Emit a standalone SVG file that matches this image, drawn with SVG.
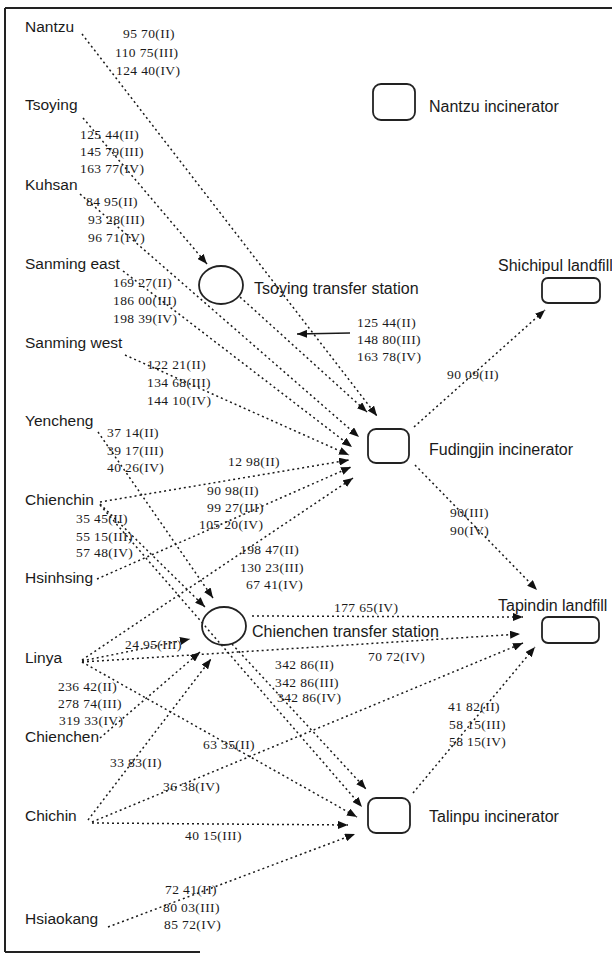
<svg xmlns="http://www.w3.org/2000/svg" width="612" height="954" viewBox="0 0 612 954">
<style>
.dot{fill:none;stroke:#1a1a1a;stroke-width:1.5;stroke-dasharray:2 3}
.solid{fill:none;stroke:#1a1a1a;stroke-width:1.3}
.shape{fill:none;stroke:#222;stroke-width:1.8}
.src{font-family:"Liberation Sans",Arial,sans-serif;font-size:15.5px;fill:#1a1a1a}
.nl{font-family:"Liberation Sans",Arial,sans-serif;font-size:16px;fill:#1a1a1a}
.num{font-family:"Liberation Serif","Times New Roman",serif;font-size:13.5px;letter-spacing:0.4px;fill:#1a1a1a}
.frame{fill:none;stroke:#222;stroke-width:2}
</style>
<defs>
<marker id="ah" viewBox="0 0 10 8" refX="10" refY="4" markerWidth="10" markerHeight="8" markerUnits="userSpaceOnUse" orient="auto"><path d="M0,0 L10,4 L0,8 z" fill="#111"/></marker>
</defs>
<rect width="612" height="954" fill="#fff"/>
<path class="frame" d="M5,8 H612 M5,8 V952 M5,952 H200"/>

<g id="connectors">
<line class="dot" x1="82" y1="34" x2="377" y2="416" marker-end="url(#ah)"/>
<line class="dot" x1="240" y1="297" x2="367" y2="412" marker-end="url(#ah)"/>
<line class="dot" x1="80" y1="194" x2="359" y2="437" marker-end="url(#ah)"/>
<line class="dot" x1="123" y1="271" x2="352" y2="447" marker-end="url(#ah)"/>
<line class="dot" x1="125" y1="355" x2="349" y2="455" marker-end="url(#ah)"/>
<line class="dot" x1="100" y1="502" x2="349" y2="460" marker-end="url(#ah)"/>
<line class="dot" x1="97" y1="579" x2="351" y2="467" marker-end="url(#ah)"/>
<line class="dot" x1="82" y1="660" x2="353" y2="478" marker-end="url(#ah)"/>
<line class="dot" x1="83" y1="118" x2="207" y2="264" marker-end="url(#ah)"/>
<line class="dot" x1="98" y1="432" x2="213" y2="598" marker-end="url(#ah)"/>
<line class="dot" x1="100" y1="504" x2="205" y2="607" marker-end="url(#ah)"/>
<line class="dot" x1="82" y1="661" x2="190" y2="639" marker-end="url(#ah)"/>
<line class="dot" x1="100" y1="738" x2="200" y2="652" marker-end="url(#ah)"/>
<line class="dot" x1="88" y1="820" x2="211" y2="659" marker-end="url(#ah)"/>
<line class="dot" x1="100" y1="505" x2="362" y2="807" marker-end="url(#ah)"/>
<line class="dot" x1="232" y1="644" x2="366" y2="789" marker-end="url(#ah)"/>
<line class="dot" x1="82" y1="662" x2="357" y2="817" marker-end="url(#ah)"/>
<line class="dot" x1="92" y1="823" x2="348" y2="825" marker-end="url(#ah)"/>
<line class="dot" x1="108" y1="927" x2="355" y2="834" marker-end="url(#ah)"/>
<line class="dot" x1="252" y1="616" x2="523" y2="617" marker-end="url(#ah)"/>
<line class="dot" x1="82" y1="662" x2="520" y2="634" marker-end="url(#ah)"/>
<line class="dot" x1="92" y1="822" x2="523" y2="643" marker-end="url(#ah)"/>
<line class="dot" x1="413" y1="793" x2="535" y2="647" marker-end="url(#ah)"/>
<line class="dot" x1="415" y1="465" x2="537" y2="590" marker-end="url(#ah)"/>
<line class="dot" x1="414" y1="427" x2="545" y2="310" marker-end="url(#ah)"/>
<line class="solid" x1="350" y1="333" x2="297" y2="334" marker-end="url(#ah)"/>
</g>

<g id="sources">
<text class="src" x="25" y="32">Nantzu</text>
<text class="src" x="25" y="110">Tsoying</text>
<text class="src" x="25" y="190">Kuhsan</text>
<text class="src" x="25" y="269">Sanming east</text>
<text class="src" x="25" y="348">Sanming west</text>
<text class="src" x="25" y="426">Yencheng</text>
<text class="src" x="25" y="505">Chienchin</text>
<text class="src" x="25" y="583">Hsinhsing</text>
<text class="src" x="25" y="663">Linya</text>
<text class="src" x="25" y="742">Chienchen</text>
<text class="src" x="25" y="821">Chichin</text>
<text class="src" x="25" y="924">Hsiaokang</text>
</g>

<g id="nantzu-incinerator">
<rect class="shape" x="373" y="84" width="42" height="36" rx="8"/>
<text class="nl" x="429" y="112">Nantzu incinerator</text>
</g>
<g id="tsoying-transfer-station">
<ellipse class="shape" cx="221" cy="285" rx="22" ry="19"/>
<text class="nl" x="254" y="294">Tsoying transfer station</text>
</g>
<g id="shichipul-landfill">
<rect class="shape" x="542" y="278" width="58" height="25" rx="6"/>
<text class="nl" x="498" y="271">Shichipul landfill</text>
</g>
<g id="fudingjin-incinerator">
<rect class="shape" x="368" y="429" width="41" height="34" rx="8"/>
<text class="nl" x="429" y="455">Fudingjin incinerator</text>
</g>
<g id="chienchen-transfer-station">
<ellipse class="shape" cx="224" cy="626" rx="22" ry="19"/>
<text class="nl" x="252" y="637">Chienchen transfer station</text>
</g>
<g id="tapindin-landfill">
<rect class="shape" x="542" y="617" width="57" height="26" rx="6"/>
<text class="nl" x="498" y="611">Tapindin landfill</text>
</g>
<g id="talinpu-incinerator">
<rect class="shape" x="368" y="798" width="42" height="35" rx="8"/>
<text class="nl" x="429" y="822">Talinpu incinerator</text>
</g>

<g id="flow-labels">
<text class="num" x="123" y="38">95 70(II)</text>
<text class="num" x="115" y="57">110 75(III)</text>
<text class="num" x="116" y="75">124 40(IV)</text>
<text class="num" x="80" y="139">125 44(II)</text>
<text class="num" x="80" y="156">145 79(III)</text>
<text class="num" x="80" y="173">163 77(IV)</text>
<text class="num" x="86" y="206">84 95(II)</text>
<text class="num" x="88" y="224">93 28(III)</text>
<text class="num" x="88" y="242">96 71(IV)</text>
<text class="num" x="113" y="287">169 27(II)</text>
<text class="num" x="113" y="305">186 00(III)</text>
<text class="num" x="113" y="323">198 39(IV)</text>
<text class="num" x="357" y="327">125 44(II)</text>
<text class="num" x="357" y="344">148 80(III)</text>
<text class="num" x="357" y="361">163 78(IV)</text>
<text class="num" x="147" y="369">122 21(II)</text>
<text class="num" x="147" y="387">134 68(III)</text>
<text class="num" x="147" y="405">144 10(IV)</text>
<text class="num" x="447" y="379">90 09(II)</text>
<text class="num" x="107" y="437">37 14(II)</text>
<text class="num" x="107" y="455">39 17(III)</text>
<text class="num" x="107" y="472">40 26(IV)</text>
<text class="num" x="228" y="466">12 98(II)</text>
<text class="num" x="207" y="495">90 98(II)</text>
<text class="num" x="207" y="512">99 27(III)</text>
<text class="num" x="199" y="529">105 20(IV)</text>
<text class="num" x="450" y="517">90(III)</text>
<text class="num" x="450" y="535">90(IV)</text>
<text class="num" x="76" y="523">35 45(II)</text>
<text class="num" x="76" y="541">55 15(III)</text>
<text class="num" x="76" y="557">57 48(IV)</text>
<text class="num" x="240" y="554">198 47(II)</text>
<text class="num" x="240" y="572">130 23(III)</text>
<text class="num" x="246" y="589">67 41(IV)</text>
<text class="num" x="334" y="612">177 65(IV)</text>
<text class="num" x="125" y="649">24 95(III)</text>
<text class="num" x="368" y="661">70 72(IV)</text>
<text class="num" x="275" y="669">342 86(II)</text>
<text class="num" x="275" y="687">342 86(III)</text>
<text class="num" x="277" y="702">342 86(IV)</text>
<text class="num" x="58" y="691">236 42(II)</text>
<text class="num" x="58" y="708">278 74(III)</text>
<text class="num" x="59" y="725">319 33(IV)</text>
<text class="num" x="448" y="711">41 82(II)</text>
<text class="num" x="449" y="729">58 15(III)</text>
<text class="num" x="449" y="746">58 15(IV)</text>
<text class="num" x="203" y="749">63 35(II)</text>
<text class="num" x="110" y="767">33 83(II)</text>
<text class="num" x="163" y="791">36 38(IV)</text>
<text class="num" x="185" y="840">40 15(III)</text>
<text class="num" x="165" y="894">72 41(II)</text>
<text class="num" x="163" y="912">80 03(III)</text>
<text class="num" x="164" y="929">85 72(IV)</text>
</g>
</svg>
